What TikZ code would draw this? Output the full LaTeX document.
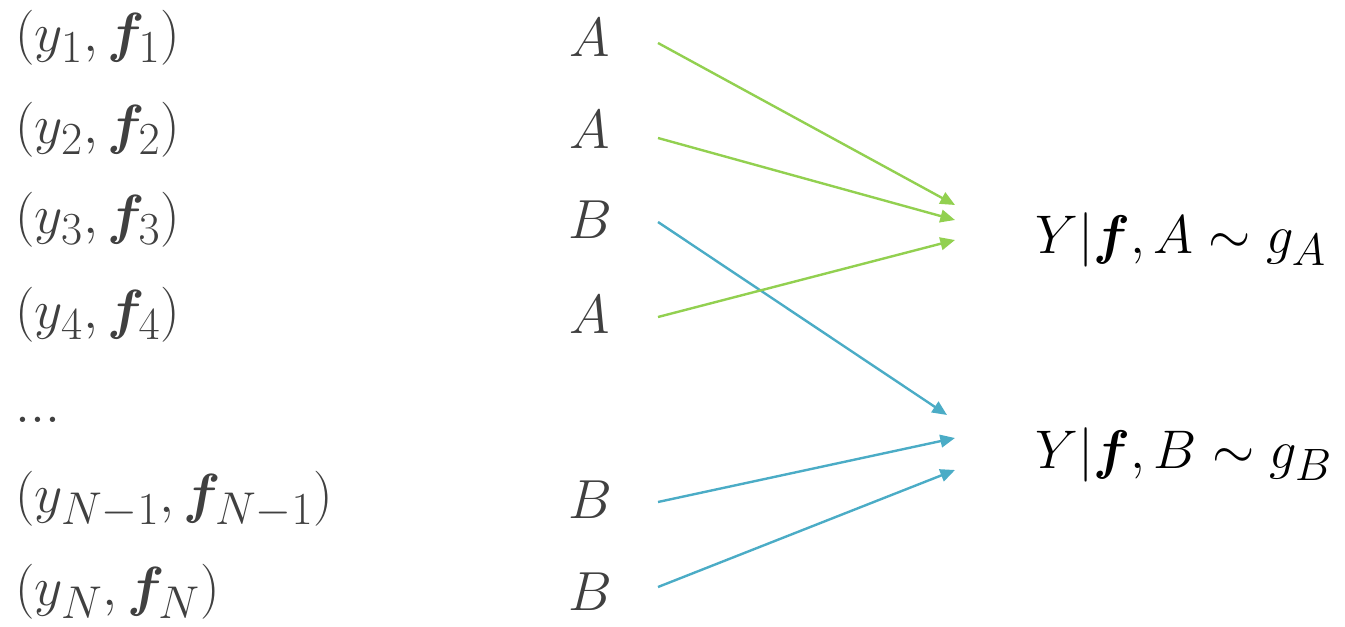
\documentclass[tikz,border=0pt]{standalone}
\usepackage{bm}
\usetikzlibrary{arrows.meta}
\definecolor{txtgray}{HTML}{404040}
\definecolor{agreen}{HTML}{92D050}
\definecolor{bblue}{HTML}{4BACC6}
\newcommand{\leftmath}[1]{\scalebox{1.66}{\Huge$#1$}}
\newcommand{\rightmath}[1]{\scalebox{1.64}{\Huge$#1$}}
\tikzset{
  lt/.style={anchor=west, inner sep=0pt, text=txtgray},
  grp/.style={anchor=center, inner sep=0pt, text=txtgray},
  rt/.style={anchor=west, inner sep=0pt, text=black},
  conn/.style={line width=1.8pt, -{Triangle[length=11pt,width=9.5pt]}},
  ga/.style={conn, draw=agreen, fill=agreen},
  gb/.style={conn, draw=bblue, fill=bblue}
}
\begin{document}
\begin{tikzpicture}[x=0.75pt,y=-0.75pt]
\useasboundingbox (0,0) rectangle (1345,627);
\node[lt] (p1) at (15,38)  {\leftmath{(y_1,\bm{f}_1)}};
\node[lt] (p2) at (15,130) {\leftmath{(y_2,\bm{f}_2)}};
\node[lt] (p3) at (15,220) {\leftmath{(y_3,\bm{f}_3)}};
\node[lt] (p4) at (15,315) {\leftmath{(y_4,\bm{f}_4)}};
\node[lt] (pd) at (15,420) {\leftmath{...}};
\node[lt] (p5) at (15,500) {\leftmath{(y_{N-1},\bm{f}_{N-1})}};
\node[lt] (p6) at (15,592) {\leftmath{(y_N,\bm{f}_N)}};
\node[grp] (g1) at (590,38)  {\leftmath{A}};
\node[grp] (g2) at (590,130) {\leftmath{A}};
\node[grp] (g3) at (590,220) {\leftmath{B}};
\node[grp] (g4) at (590,315) {\leftmath{A}};
\node[grp] (g5) at (590,500) {\leftmath{B}};
\node[grp] (g6) at (590,592) {\leftmath{B}};
\node[rt] (ra) at (1035,240) {\rightmath{Y|\bm{f},A\sim g_A}};
\node[rt] (rb) at (1035,455) {\rightmath{Y|\bm{f},B\sim g_B}};
\coordinate (s1) at (658,43);
\coordinate (s2) at (658,138);
\coordinate (s3) at (658,222);
\coordinate (s4) at (658,317);
\coordinate (s5) at (658,502);
\coordinate (s6) at (658,587);
\coordinate (t1) at (955,205);
\coordinate (t2) at (955,220);
\coordinate (t4) at (955,240);
\coordinate (t3) at (947,415);
\coordinate (t5) at (955,438);
\coordinate (t6) at (955,470);
\draw[gb] (s3) -- (t3);
\draw[ga] (s1) -- (t1);
\draw[ga] (s2) -- (t2);
\draw[ga] (s4) -- (t4);
\draw[gb] (s5) -- (t5);
\draw[gb] (s6) -- (t6);
\end{tikzpicture}
\end{document}
